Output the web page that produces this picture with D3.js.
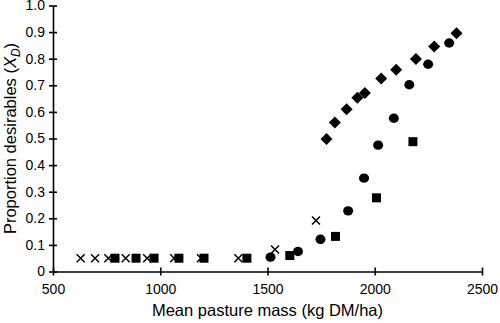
<!DOCTYPE html>
<html>
<head>
<meta charset="utf-8">
<script src="https://cdn.jsdelivr.net/npm/d3@7"></script>
<style>
  body { margin: 0; background: #fff; }
  text { font-family: "Liberation Sans", Arial, sans-serif; fill: #000; }
</style>
</head>
<body>
<div id="chart"></div>
<script>
// mean pasture mass (kg DM/ha) vs proportion desirables, four groups
var diamondX = [1775, 1814, 1869, 1919, 1954, 2030, 2100, 2192, 2277, 2381];
var diamondY = [0.498, 0.560, 0.610, 0.653, 0.671, 0.726, 0.758, 0.799, 0.846, 0.896];

var circleX = [1514, 1642, 1747, 1876, 1950, 2016, 2089, 2161, 2249, 2347];
var circleY = [0.054, 0.075, 0.121, 0.228, 0.351, 0.475, 0.576, 0.702, 0.779, 0.859];

var squareX = [789, 887, 971, 1087, 1204, 1404, 1604, 1817, 2008, 2178];
var squareY = [0.05, 0.05, 0.05, 0.05, 0.05, 0.05, 0.060, 0.132, 0.277, 0.488];

var crossX = [629, 696, 758, 839, 939, 1065, 1190, 1364, 1535, 1726];
var crossY = [0.05, 0.05, 0.05, 0.05, 0.05, 0.05, 0.05, 0.05, 0.083, 0.192];

var xTicks = [500, 1000, 1500, 2000, 2500];
var yTicks = [0, 0.1, 0.2, 0.3, 0.4, 0.5, 0.6, 0.7, 0.8, 0.9, 1.0];

var margin = { top: 5.5, right: 18, bottom: 51.5, left: 53 };
var width = 500, height = 323;
var w = width - margin.left - margin.right;
var h = height - margin.top - margin.bottom;

var svg = d3.select("#chart").append("svg")
    .attr("width", width)
    .attr("height", height);

var g = svg.append("g")
    .attr("transform", "translate(" + margin.left + "," + margin.top + ")");

var x = d3.scaleLinear().domain([500, 2500]).range([0, w]);
var y = d3.scaleLinear().domain([0, 1]).range([h, 0]);

// axes: ticks cross the axis line
var xAxis = d3.axisBottom(x).tickValues(xTicks).tickSize(0).tickPadding(10)
    .tickFormat(d3.format("d"));
var gx = g.append("g").attr("transform", "translate(0," + h + ")").call(xAxis);
gx.select(".domain").attr("stroke", "#000").attr("stroke-width", 1.6);
gx.selectAll(".tick").append("line")
    .attr("y1", -4).attr("y2", 4)
    .attr("stroke", "#000").attr("stroke-width", 1.6);
gx.selectAll(".tick text")
    .style("font-size", "14px")
    .attr("dy", "0.9em");

var yAxis = d3.axisLeft(y).tickValues(yTicks).tickSize(0).tickPadding(8)
    .tickFormat(function(d){ return d === 0 ? "0" : d3.format(".1f")(d); });
var gy = g.append("g").call(yAxis);
gy.select(".domain").attr("stroke", "#000").attr("stroke-width", 1.6);
gy.selectAll(".tick").append("line")
    .attr("x1", -4).attr("x2", 4)
    .attr("stroke", "#000").attr("stroke-width", 1.6);
gy.selectAll(".tick text").style("font-size", "14px");

// axis titles
g.append("text")
    .attr("x", w / 2)
    .attr("y", h + 44)
    .attr("text-anchor", "middle")
    .style("font-size", "16.5px")
    .text("Mean pasture mass (kg DM/ha)");

var yl = svg.append("text")
    .attr("transform", "translate(16," + (margin.top + h / 2) + ") rotate(-90)")
    .attr("text-anchor", "middle")
    .style("font-size", "16.5px");
yl.append("tspan").text("Proportion desirables (");
yl.append("tspan").style("font-style", "italic").text("X");
yl.append("tspan").style("font-style", "italic").style("font-size", "12px")
    .attr("dy", 4).text("D");
yl.append("tspan").attr("dy", -4).text(")");

function pts(xs, ys) {
    return xs.map(function(d, i){ return { x: d, y: ys[i] }; });
}

var marks = g.append("g");

marks.selectAll(".diamond")
    .data(pts(diamondX, diamondY))
    .enter().append("path")
    .attr("class", "diamond")
    .attr("d", d3.symbol().type(d3.symbolSquare).size(72))
    .attr("transform", function(d){
        return "translate(" + x(d.x) + "," + y(d.y) + ") rotate(45)";
    })
    .attr("fill", "#000");

marks.selectAll(".circle")
    .data(pts(circleX, circleY))
    .enter().append("ellipse")
    .attr("class", "circle")
    .attr("cx", function(d){ return x(d.x); })
    .attr("cy", function(d){ return y(d.y); })
    .attr("rx", 5).attr("ry", 4.7)
    .attr("fill", "#000");

marks.selectAll(".square")
    .data(pts(squareX, squareY))
    .enter().append("rect")
    .attr("class", "square")
    .attr("x", function(d){ return x(d.x) - 4.5; })
    .attr("y", function(d){ return y(d.y) - 4.5; })
    .attr("width", 9).attr("height", 9)
    .attr("fill", "#000");

marks.selectAll(".cross")
    .data(pts(crossX, crossY))
    .enter().append("path")
    .attr("class", "cross")
    .attr("d", "M-4,-4L4,4M-4,4L4,-4")
    .attr("transform", function(d){
        return "translate(" + x(d.x) + "," + y(d.y) + ")";
    })
    .attr("stroke", "#000")
    .attr("stroke-width", 1.5)
    .attr("fill", "none");
</script>
</body>
</html>
